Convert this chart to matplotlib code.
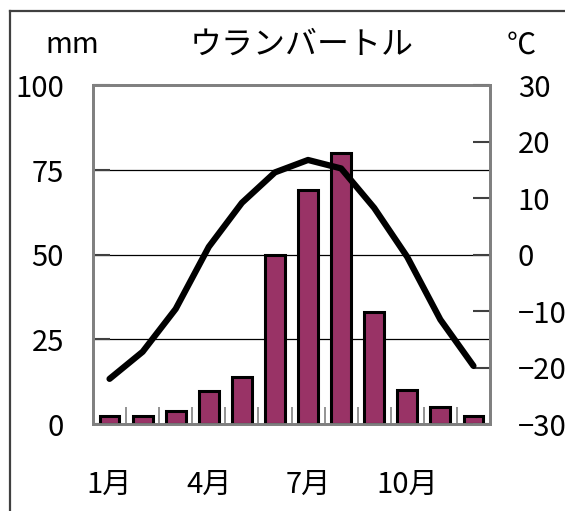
import numpy as np
import matplotlib.pyplot as plt
from matplotlib.lines import Line2D

plt.rcParams['font.family'] = ['Noto Sans CJK JP', 'DejaVu Sans']

# Ulaanbaatar climate data
months = np.arange(1, 13)
precip_mm = [2.5, 2.5, 3.7, 9.7, 14.0, 49.8, 69.2, 80.0, 33.2, 10.0, 5.0, 2.5]
temp_c = [-22.0, -17.2, -9.6, 1.4, 9.2, 14.6, 16.8, 15.3, 8.3, -0.4, -11.5, -19.7]
month_ticks = [1, 4, 7, 10]
month_labels = ['1月', '4月', '7月', '10月']
precip_ticks = [0, 25, 50, 75, 100]
temp_ticks = [-30, -20, -10, 0, 10, 20, 30]

spine_gray = '#808080'
fs = 21

fig = plt.figure(figsize=(5.65, 5.11), dpi=100)
ax = fig.add_axes([93/565, 1 - 424/511, 397/565, 338.5/511])

ax.bar(months, precip_mm, width=0.6, color='#993366', edgecolor='black',
       linewidth=2.2, zorder=3)
ax.set_xlim(0.5, 12.5)
ax.set_ylim(0, 100)
ax.set_yticks(precip_ticks)
ax.set_yticklabels([str(v) for v in precip_ticks], fontsize=fs)
for v in [25, 50, 75]:
    ax.axhline(v, color='black', linewidth=0.9, zorder=1)

ax.set_xticks(month_ticks)
ax.set_xticklabels(month_labels, fontsize=fs)
ax.set_xticks(np.arange(1.5, 12.5, 1), minor=True)
ax.tick_params(axis='x', which='major', length=0, pad=33)
ax.tick_params(axis='x', which='minor', direction='in', length=12,
               width=1.2, color=spine_gray)
ax.tick_params(axis='y', direction='in', length=12, width=1.5,
               color='#404040', pad=21)

ax2 = ax.twinx()
ax2.plot(months, temp_c, color='black', linewidth=4.5,
         solid_capstyle='round', solid_joinstyle='round', zorder=4)
ax2.set_ylim(-30, 30)
ax2.set_yticks(temp_ticks)
ax2.set_yticklabels([str(v).replace('-', '\u2212') for v in temp_ticks], fontsize=fs)
ax2.tick_params(axis='y', direction='in', length=12, width=1.5,
                color='#404040', pad=20)

for a in (ax, ax2):
    for s in a.spines.values():
        s.set_color(spine_gray)
        s.set_linewidth(2)

fig.text(302/565, 1 - 45/511, 'ウランバートル', fontsize=23,
         ha='center', va='center')
fig.text(72/565, 1 - 45/511, 'mm', fontsize=fs, ha='center', va='center')
fig.text(521/565, 1 - 46/511, '℃', fontsize=fs, ha='center', va='center')

# outer frame (right and bottom edges fall outside the image)
fig.add_artist(Line2D([9.5/565, 9.5/565], [0, 1 - 11/511],
                      transform=fig.transFigure, color='#404040', linewidth=1.6))
fig.add_artist(Line2D([9.5/565, 1], [1 - 11/511, 1 - 11/511],
                      transform=fig.transFigure, color='#404040', linewidth=1.6))

fig.savefig('out.png', dpi=100)
